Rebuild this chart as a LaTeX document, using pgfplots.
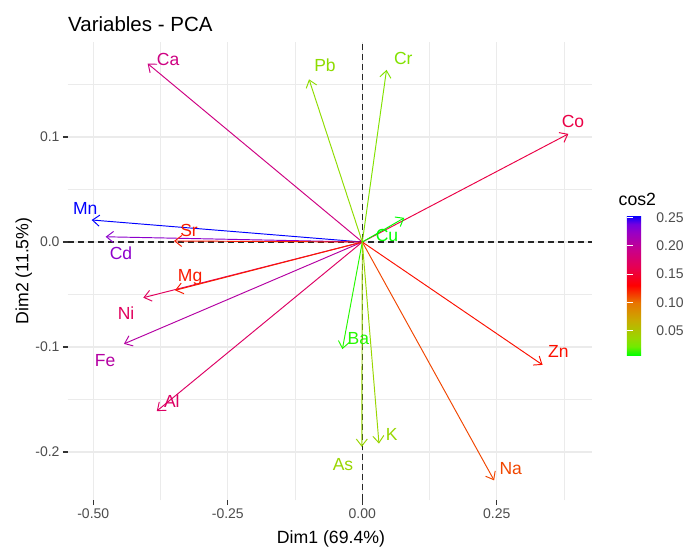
\documentclass[border=0pt]{standalone}
\usepackage{fontspec}
\setmainfont{Liberation Sans}
\usepackage{pgfplots}
\pgfplotsset{compat=1.18}
\usepackage{pgfplotstable}
\usetikzlibrary{arrows.meta}

\definecolor{tickgray}{HTML}{4D4D4D}
\definecolor{gridgray}{HTML}{EBEBEB}
\definecolor{axisgray}{HTML}{333333}
\definecolor{refline}{HTML}{262626}

\newcommand\titlefont{\fontsize{20.5}{24}\selectfont}
\newcommand\axtitlefont{\fontsize{17.7}{21}\selectfont}
\newcommand\tickfont{\fontsize{14}{17}\selectfont}
\newcommand\labfont{\fontsize{17.5}{21}\selectfont}

% cos2 colour ramp: green -> red -> blue (Lab-like interpolation)
\pgfplotsset{colormap={cosmap}{
  rgb255(0cm)=(0,255,0) rgb255(1cm)=(112,235,0) rgb255(2cm)=(152,215,0)
  rgb255(4cm)=(200,171,0) rgb255(6cm)=(232,118,0) rgb255(8cm)=(255,0,0)
  rgb255(10cm)=(232,0,79) rgb255(12cm)=(202,0,137) rgb255(14cm)=(154,0,195)
  rgb255(15cm)=(115,0,224) rgb255(16cm)=(0,0,255)}}

% variable coordinates on Dim1/Dim2, label positions and cos2
\pgfplotstableread{
name dx dy lx ly c
Mn -0.503 0.021 -0.515 0.032 0.2534
Cd -0.477 0.005 -0.4485 -0.0105 0.2276
Sr -0.350 0.001 -0.322 0.0114 0.1225
Ca -0.399 0.170 -0.361 0.1743 0.1881
Fe -0.443 -0.097 -0.478 -0.113 0.2057
Ni -0.407 -0.053 -0.439 -0.0676 0.1685
Mg -0.348 -0.046 -0.320 -0.0333 0.1232
Al -0.382 -0.161 -0.354 -0.1514 0.1718
Co 0.383 0.103 0.3916 0.1146 0.1573
Zn 0.335 -0.117 0.3643 -0.1045 0.1259
Na 0.245 -0.227 0.2758 -0.2155 0.1116
Pb -0.099 0.155 -0.0693 0.1686 0.0338
Cr 0.045 0.164 0.0762 0.175 0.0289
Cu 0.078 0.023 0.0459 0.0067 0.0066
Ba -0.037 -0.102 -0.0074 -0.0917 0.0118
As -0.001 -0.195 -0.0359 -0.2124 0.0380
K 0.031 -0.192 0.0546 -0.1831 0.0378
}\pcavars

% cos2 range of the colour scale
\def\cmin{0.0066}
\def\cmax{0.2534}

\begin{document}
\begin{tikzpicture}[x=1pt,y=1pt]
\path[use as bounding box, fill=white] (0,0) rectangle (686,547);

\begin{axis}[
  at={(68pt,47pt)}, anchor=south west,
  scale only axis, width=524.3pt, height=458.3pt,
  xmin=-0.547, xmax=0.4275, ymin=-0.2457, ymax=0.1908,
  clip=false,
  axis line style={draw=none},
  tick align=outside, tick pos=left,
  major tick length=5pt, minor tick length=0pt,
  xtick={-0.5,-0.25,0,0.25}, xticklabels={-0.50,-0.25,0.00,0.25},
  ytick={-0.2,-0.1,0,0.1}, yticklabels={-0.2,-0.1,0.0,0.1},
  minor xtick={-0.375,-0.125,0.125,0.375},
  minor ytick={-0.15,-0.05,0.05,0.15},
  grid=both,
  major grid style={gridgray, line width=1.1pt},
  minor grid style={gridgray, line width=0.6pt},
  major tick style={axisgray, line width=1.1pt},
  ticklabel style={font=\tickfont, text=tickgray},
  colormap name=cosmap,
  point meta min=\cmin, point meta max=\cmax,
  colorbar,
  colorbar style={
    at={(parent axis.north east)}, anchor=north west,
    xshift=26pt, yshift=-173.7pt,
    scale only axis, width=28.4pt, height=140pt,
    axis line style={draw=none},
    ytick={0.05,0.1,0.15,0.2,0.25},
    yticklabels={0.05,0.10,0.15,0.20,0.25},
    tick align=inside, ytick pos=both, yticklabel pos=right,
    major tick length=5.7pt,
    major tick style={white, line width=1pt},
    yticklabel style={font=\tickfont, text=tickgray, anchor=west, inner sep=0pt, xshift=1pt},
    grid=none,
  },
]
% reference lines through the origin
\addplot[refline, line width=1.2pt, dash pattern=on 6pt off 4pt] coordinates {(-0.547,0) (0.4275,0)};
\addplot[refline, line width=1.2pt, dash pattern=on 6pt off 4pt] coordinates {(0,-0.2457) (0,0.1908)};

% variable arrows coloured by cos2
\addplot[
  quiver={u=\thisrow{dx}, v=\thisrow{dy}, colored=mapped color},
  -{Straight Barb[length=7pt,width=11pt,line width=0.95pt]},
  line width=0.95pt,
  point meta=explicit,
] table[x expr=0, y expr=0, meta=c] {\pcavars};

% variable names, coloured on the same cos2 scale
\addplot[
  only marks, mark=*, mark size=0pt, mark options={draw=none, fill=none},
  point meta=explicit symbolic,
  visualization depends on={\thisrow{c}\as\cval},
  nodes near coords={%
    \pgfmathtruncatemacro\ci{(\cval-\cmin)/(\cmax-\cmin)*1000}%
    \pgfplotscolormapdefinemappedcolor{\ci}%
    \color{mapped color}\pgfplotspointmeta},
  every node near coord/.append style={font=\labfont, anchor=center, inner sep=0pt},
] table[x=lx, y=ly, meta=name] {\pcavars};
\end{axis}

\begin{scope}[every node/.style={inner sep=0pt}]
\node[anchor=base west, font=\titlefont] at (68,515.3) {Variables - PCA};
\node[anchor=base, font=\axtitlefont] at (331,3.7) {Dim1 (69.4\%)};
\node[anchor=base, rotate=90, font=\axtitlefont] at (28.5,276) {Dim2 (11.5\%)};
\node[anchor=base west, font=\axtitlefont] at (618.5,341.3) {cos2};
\end{scope}
\end{tikzpicture}
\end{document}
